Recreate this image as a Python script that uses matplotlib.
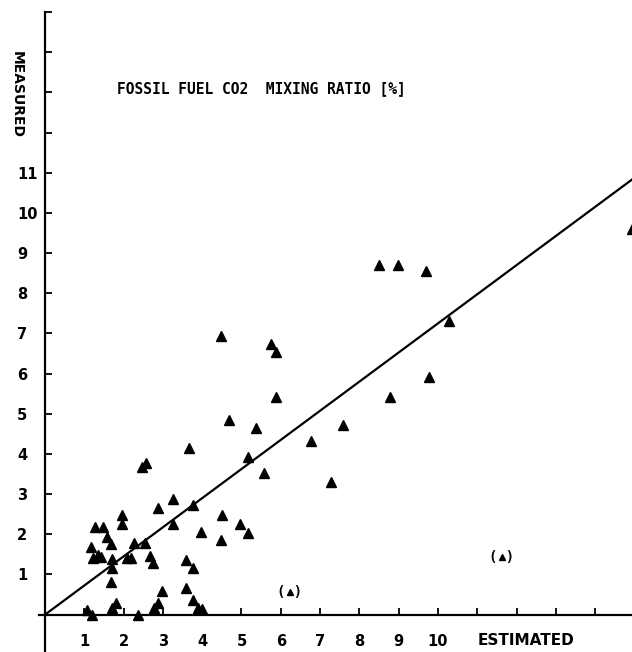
import matplotlib
matplotlib.use("Agg")
import matplotlib.pyplot as plt

# estimated vs measured fossil fuel CO2 mixing ratio (%)
estimado = [14.95, 8.50, 8.98, 9.69, 10.28, 9.77, 8.78, 4.48, 5.75, 5.88,
            5.88, 4.68, 5.37, 7.58, 6.77, 5.17, 5.57, 7.28, 4.50, 3.66,
            2.57, 2.47, 2.88, 3.26, 3.77, 3.26, 4.96, 5.17, 3.97, 4.48,
            2.54, 2.67, 2.75, 3.59, 3.77, 2.98, 3.59, 2.88, 2.77, 3.77,
            3.89, 3.99, 1.96, 1.96, 1.27, 1.48, 1.58, 1.68, 2.26, 1.17,
            1.22, 1.35, 1.42, 1.70, 1.70, 2.09, 2.19, 1.68, 1.81, 1.70,
            1.07, 1.20, 2.37]
medido = [9.60, 8.71, 8.71, 8.56, 7.31, 5.92, 5.42, 6.94, 6.74, 6.54,
          5.42, 4.85, 4.65, 4.73, 4.33, 3.93, 3.53, 3.31, 2.49, 4.15,
          3.78, 3.68, 2.66, 2.89, 2.74, 2.26, 2.26, 2.04, 2.06, 1.87,
          1.79, 1.47, 1.29, 1.37, 1.17, 0.60, 0.67, 0.30, 0.17, 0.37,
          0.17, 0.15, 2.49, 2.26, 2.19, 2.19, 1.94, 1.77, 1.79, 1.69,
          1.42, 1.49, 1.44, 1.39, 1.17, 1.42, 1.42, 0.80, 0.30, 0.17,
          0.12, 0.00, 0.00]

# points in parentheses
fora_x = [6.23, 11.63]
fora_y = [0.57, 1.44]

# fitted line
reta_x = [0, 15]
inclinacao = 0.725
reta_y = [inclinacao * v for v in reta_x]

xticks = list(range(1, 16))
xlabels = [str(i) for i in range(1, 11)] + [""] * 5
yticks = list(range(1, 16))
ylabels = [str(i) for i in range(1, 12)] + [""] * 4

fig = plt.figure(figsize=(6.32, 6.52), dpi=100)
ax = fig.add_axes([0.0619, 0.0, 0.942, 0.9816])
ax.set_xlim(-0.15, 15)
ax.set_ylim(-0.93, 15)

ax.spines["top"].set_visible(False)
ax.spines["right"].set_visible(False)
ax.spines["left"].set_position(("data", 0))
ax.spines["bottom"].set_position(("data", 0))
ax.spines["left"].set_linewidth(1.6)
ax.spines["bottom"].set_linewidth(1.6)

ax.plot(reta_x, reta_y, color="black", lw=1.6, clip_on=False)
ax.plot(estimado, medido, linestyle="none", marker="^", ms=7.8,
        color="black", clip_on=False)
ax.plot(fora_x, fora_y, linestyle="none", marker="^", ms=4.5, color="black")
for a, b in zip(fora_x, fora_y):
    ax.text(a, b, "( )", family="DejaVu Sans Mono", weight="bold",
            fontsize=10, ha="center", va="center")

ax.set_xticks(xticks)
ax.set_xticklabels(xlabels, family="DejaVu Sans", weight="bold", fontsize=10.5)
ax.set_yticks(yticks)
ax.set_yticklabels(ylabels, family="DejaVu Sans", weight="bold", fontsize=10.5,
                   ha="left")
ax.tick_params(axis="x", direction="in", length=5, width=1.3, pad=14)
ax.tick_params(axis="y", direction="in", length=5, width=1.3, pad=20)

ax.text(12.25, -0.65, "ESTIMATED", family="DejaVu Sans", weight="bold",
        fontsize=11, ha="center", va="center")
ax.text(-0.71, 12.94, "MEASURED", family="DejaVu Sans", weight="bold",
        fontsize=10, ha="center", va="center", rotation=-90, clip_on=False)
ax.text(5.5, 13.1, "FOSSIL FUEL CO2  MIXING RATIO [%]",
        family="DejaVu Sans Mono", weight="bold", fontsize=10.5,
        ha="center", va="center")

plt.savefig("out.png", dpi=100)
